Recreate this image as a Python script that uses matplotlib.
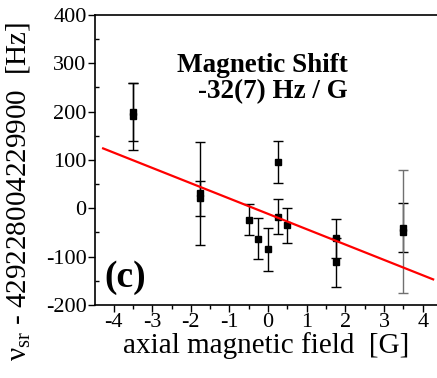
import matplotlib
matplotlib.use("Agg")
import matplotlib.pyplot as plt
from matplotlib.ticker import MultipleLocator

# ---- data ----
field = [-3.5, -3.5, -1.75, -1.75, -0.5, -0.25, 0.0, 0.25, 0.25, 0.5, 1.75, 1.75, 3.5, 3.5]
shift = [200, 190, 31, 21, -24, -63, -85, 96, -17, -35, -62, -112, -40, -48]
shift_err = [60, 70, 106, 36, 32, 42, 45, 44, 37, 36, 40, 50, 50, 128]
fit_x = [-4.27, 4.27]
fit_y = [124, -147]
x_ticks = [-4, -3, -2, -1, 0, 1, 2, 3, 4]
y_ticks = [-200, -100, 0, 100, 200, 300, 400]

plt.rcParams['font.family'] = ['Liberation Serif', 'DejaVu Serif']
plt.rcParams['mathtext.fontset'] = 'custom'
plt.rcParams['mathtext.rm'] = 'Liberation Serif'
plt.rcParams['mathtext.it'] = 'Liberation Serif:italic'
plt.rcParams['mathtext.bf'] = 'Liberation Serif:bold'

fig = plt.figure(figsize=(4.37, 3.78), dpi=100)
ax = fig.add_axes([95/437, 1-305/378, (437-95)/437, (305-15)/378])

gray_idx = {13}
for i, (xv, yv, ev) in enumerate(zip(field, shift, shift_err)):
    c = '#707070' if i in gray_idx else 'black'
    ax.errorbar([xv], [yv], yerr=[ev], fmt='none', ecolor=c, elinewidth=1.0,
                capsize=3.5, capthick=1.0, zorder=2)
ax.plot(field, shift, 's', color='black', markersize=4.5, zorder=3, linestyle='none')
ax.plot(fit_x, fit_y, color='#ff0000', linewidth=1.6, zorder=4)

ax.set_xlim(-4.48, 4.37)
ax.set_ylim(-200, 400)
ax.set_xticks(x_ticks)
ax.set_yticks(y_ticks)
ax.set_xticklabels([str(v) for v in x_ticks])
ax.set_yticklabels([str(v) for v in y_ticks])
ax.xaxis.set_minor_locator(MultipleLocator(0.5))
ax.yaxis.set_minor_locator(MultipleLocator(50))
ax.tick_params(axis='both', which='major', direction='out', length=5, width=1, labelsize=16, pad=1)
ax.tick_params(axis='x', which='minor', direction='out', length=3, width=1)
ax.tick_params(axis='y', which='minor', direction='in', length=3, width=1)
for s in ['left', 'bottom', 'top']:
    ax.spines[s].set_linewidth(1.2)
ax.spines['right'].set_visible(False)

ax.set_xlabel('axial magnetic field  [G]', fontsize=21, labelpad=0)
fig.text(18/437, 1-191/378, 'ν$_{\\mathrm{sr}}$ - 429228004229900  [Hz]',
         rotation=90, ha='center', va='center', fontsize=21)

ax.text(348/437, 1-71.7/378, 'Magnetic Shift', transform=fig.transFigure,
        ha='right', va='baseline', fontsize=19.5, fontweight='bold')
ax.text(348/437, 1-98.3/378, '-32(7) Hz / G', transform=fig.transFigure,
        ha='right', va='baseline', fontsize=19.5, fontweight='bold')
ax.text(104/437, 1-287/378, '(c)', transform=fig.transFigure,
        ha='left', va='baseline', fontsize=27, fontweight='bold')

fig.savefig('out.png', dpi=100)
